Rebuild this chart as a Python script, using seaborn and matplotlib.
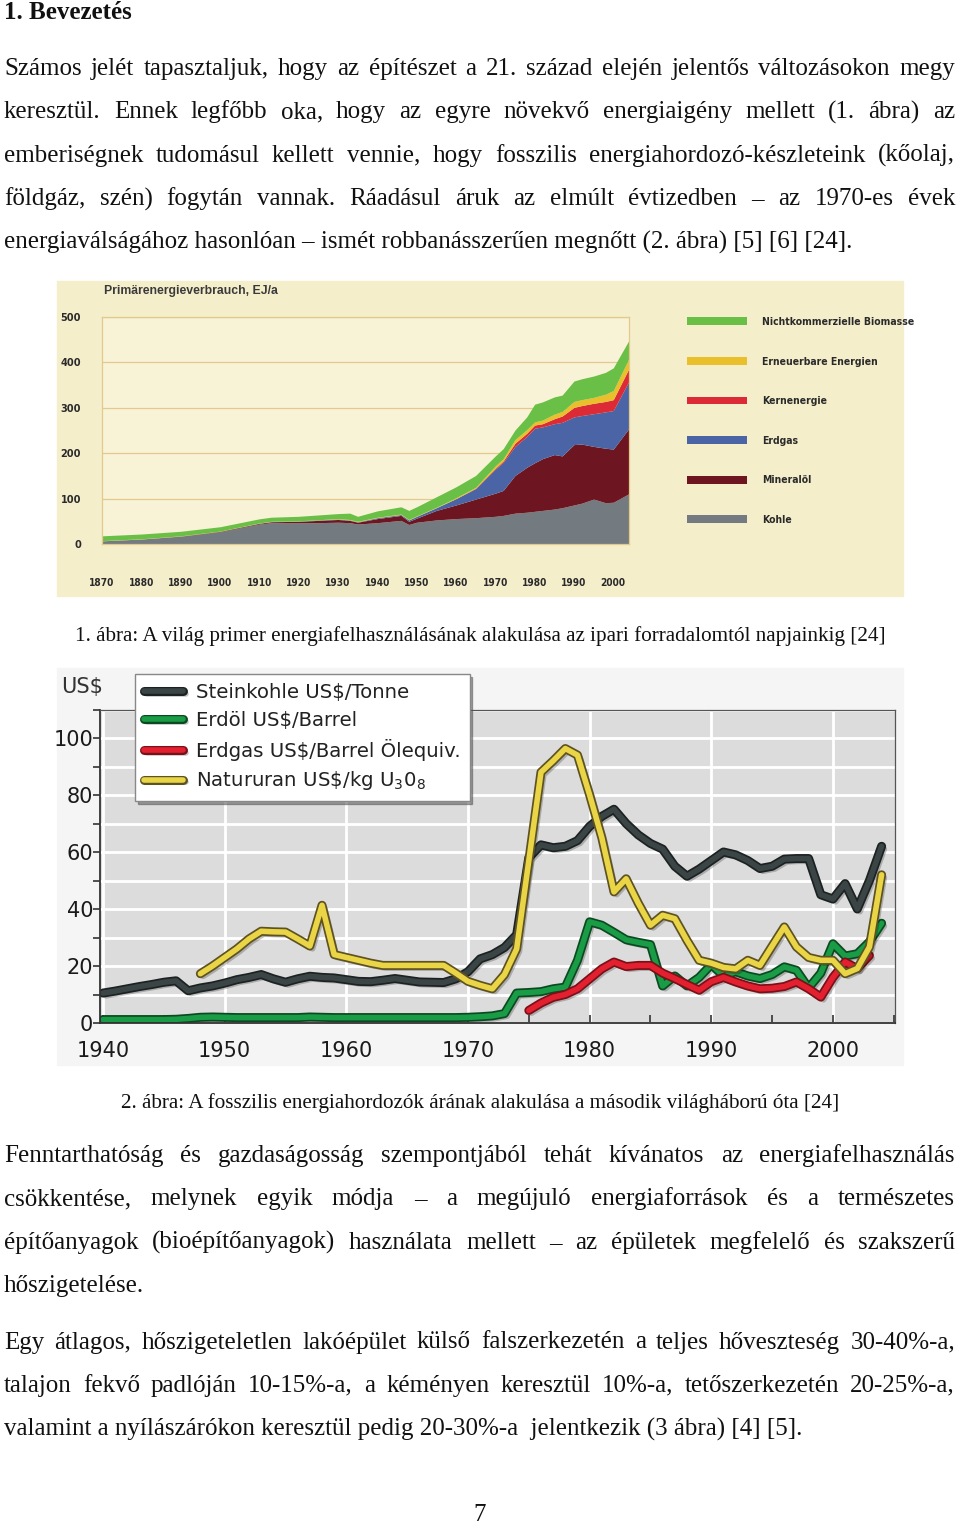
import numpy as np
import pandas as pd
import seaborn as sns
import matplotlib.pyplot as plt
from matplotlib import patheffects as pe
from matplotlib.patches import Rectangle
from matplotlib.ticker import MultipleLocator
from matplotlib.font_manager import FontProperties

# -------------------------------
# Page text
# -------------------------------
heading = "1. Bevezetés"

para1 = [
    "Számos jelét tapasztaljuk, hogy az építészet a 21. század elején jelentős változásokon megy",
    "keresztül. Ennek legfőbb oka, hogy az egyre növekvő energiaigény mellett (1. ábra) az",
    "emberiségnek tudomásul kellett vennie, hogy fosszilis energiahordozó-készleteink (kőolaj,",
    "földgáz, szén) fogytán vannak. Ráadásul áruk az elmúlt évtizedben – az 1970-es évek",
    "energiaválságához hasonlóan – ismét robbanásszerűen megnőtt (2. ábra) [5] [6] [24].",
]
caption1 = "1. ábra: A világ primer energiafelhasználásának alakulása az ipari forradalomtól napjainkig [24]"
caption2 = "2. ábra: A fosszilis energiahordozók árának alakulása a második világháború óta [24]"
para2 = [
    "Fenntarthatóság és gazdaságosság szempontjából tehát kívánatos az energiafelhasználás",
    "csökkentése, melynek egyik módja – a megújuló energiaforrások és a természetes",
    "építőanyagok (bioépítőanyagok) használata mellett – az épületek megfelelő és szakszerű",
    "hőszigetelése.",
]
para3 = [
    "Egy átlagos, hőszigeteletlen lakóépület külső falszerkezetén a teljes hőveszteség 30-40%-a,",
    "talajon fekvő padlóján 10-15%-a, a kéményen keresztül 10%-a, tetőszerkezetén 20-25%-a,",
    "valamint a nyílászárókon keresztül pedig 20-30%-a  jelentkezik (3 ábra) [4] [5].",
]
page_no = "7"

# -------------------------------
# Figure 1 data: primary energy use, EJ/a (stacked)
# -------------------------------
energy_years = [1870, 1880, 1890, 1900, 1910, 1913, 1920, 1925, 1930, 1933, 1935,
                1940, 1946, 1948, 1950, 1955, 1960, 1965, 1970, 1972, 1975, 1978,
                1980, 1982, 1985, 1987, 1990, 1992, 1995, 1998, 2000, 2004]
kohle = [7, 11, 17, 27, 44, 47, 47, 47, 48, 47, 44,
         47, 52, 43, 48, 53, 56, 58, 61, 63, 68, 70,
         72, 74, 77, 80, 86, 90, 99, 91, 92, 111]
mineraloel = [0, 0, 0.5, 1, 1.5, 2, 3, 5, 6, 5, 4,
              9, 11, 7, 9, 21, 30, 41, 51, 55, 83, 99,
              107, 114, 120, 114, 133, 130, 116, 120, 117, 144]
erdgas = [0, 0, 0, 0, 0.5, 0.5, 0.5, 1, 1, 1, 1,
          2, 2, 3, 4, 6, 14, 23, 53, 62, 64, 68,
          76, 70, 68, 74, 61, 63, 72, 80, 85, 104]
kernenergie = [0, 0, 0, 0, 0, 0, 0, 0, 0, 0, 0,
               0, 0, 0, 0, 0, 0, 1, 2, 3, 7, 7,
               7, 7, 11, 14, 21, 22, 23, 23, 24, 28]
erneuerbare = [0.5, 0.5, 0.5, 0.5, 0.5, 0.5, 0.5, 0.5, 1, 1, 1,
               1, 1, 1, 1, 1, 2, 2, 5, 5, 8, 8,
               7, 8, 10, 10, 13, 13, 13, 16, 20, 22]
biomasse = [10.5, 10.5, 10, 9.5, 9, 9, 10, 10.5, 11, 14, 11,
            14, 16, 20, 20, 23, 24, 26, 22, 22, 21, 28,
            39, 40, 38, 36, 45, 46, 47, 48, 50, 40]
energy_labels = ["Kohle", "Mineralöl", "Erdgas", "Kernenergie",
                 "Erneuerbare Energien", "Nichtkommerzielle Biomasse"]
energy_colors = ["#737a80", "#6d1520", "#4a64a5", "#dc2a36", "#e9bf2b", "#6abf46"]
energy_xticks = list(range(1870, 2001, 10))
energy_yticks = [0, 100, 200, 300, 400, 500]

# -------------------------------
# Figure 2 data: fossil fuel prices
# -------------------------------
coal_years = list(range(1940, 2005))
coal_price = [10.5, 11.2, 12.0, 12.8, 13.5, 14.3, 14.8, 11.3, 12.3, 13.0,
              14.0, 15.2, 16.0, 17.0, 15.5, 14.3, 15.5, 16.4, 16.0, 15.8,
              15.2, 14.6, 14.5, 15.0, 15.6, 15.0, 14.4, 14.3, 14.2, 15.5,
              18.0, 22.5, 24.0, 26.5, 31.0, 58.0, 62.5, 61.5, 62.0, 64.0,
              69.0, 72.5, 75.0, 70.0, 66.0, 63.0, 61.0, 55.0, 51.5, 54.0,
              57.0, 60.0, 59.0, 57.0, 54.2, 55.0, 57.5, 57.7, 57.7, 45.0,
              43.5, 48.9, 40.0, 50.0, 62.0]
oil_years = list(range(1940, 2005))
oil_price = [1.2, 1.2, 1.2, 1.2, 1.2, 1.2, 1.3, 1.6, 2.0, 2.1,
             2.0, 1.9, 1.9, 1.9, 1.9, 1.9, 1.9, 2.1, 2.0, 1.9,
             1.9, 1.9, 1.9, 1.9, 1.9, 1.9, 1.9, 1.9, 1.9, 1.9,
             2.0, 2.2, 2.5, 3.3, 10.5, 10.7, 11.0, 12.0, 12.6, 22.0,
             35.5, 34.3, 31.8, 29.2, 28.3, 27.5, 13.0, 16.5, 13.0, 16.0,
             20.5, 16.5, 18.0, 16.5, 15.6, 17.0, 19.7, 18.5, 12.3, 17.5,
             27.8, 23.5, 24.3, 28.5, 35.0]
gas_years = list(range(1975, 2004))
gas_price = [4.4, 7.0, 9.0, 10.0, 12.0,
             15.5, 19.0, 21.4, 19.8, 20.2,
             20.2, 17.5, 15.6, 13.5, 11.5,
             14.5, 16.0, 14.4, 13.0, 12.0,
             12.2, 12.8, 14.4, 12.0, 9.1,
             16.0, 21.4, 19.1, 23.7]
uran_years = list(range(1948, 2005))
uran_price = [17.3, 20.0,
              23.0, 26.0, 29.5, 32.2, 32.0, 31.9, 29.5, 27.0, 41.3, 24.0,
              23.0, 22.0, 21.0, 20.2, 20.2, 20.2, 20.2, 20.2, 20.2, 17.5,
              14.6, 13.2, 12.0, 17.0, 26.0, 57.0, 88.0, 92.0, 96.3, 94.0,
              80.0, 65.0, 46.0, 50.6, 42.0, 34.3, 37.8, 36.6, 29.0, 22.0,
              21.0, 19.5, 19.0, 22.0, 20.2, 27.0, 33.7, 26.7, 23.0, 22.0,
              22.0, 17.3, 19.1, 26.7, 52.0]
price_labels = ["Steinkohle US\\$/Tonne", "Erdöl US\\$/Barrel",
                "Erdgas US\\$/Barrel Ölequiv.", "Natururan US\\$/kg U$_3$0$_8$"]
price_colors = ["#3c4545", "#1a9b46", "#e3202f", "#e9d546"]
price_edges = ["#1c2222", "#0b4a20", "#7a1018", "#5e5222"]

# -------------------------------
# Figure setup
# -------------------------------
W, H = 960, 1525
sns.set_style("white")
plt.rcParams['font.family'] = ['Liberation Serif', 'DejaVu Serif']

fig = plt.figure(figsize=(W / 100, H / 100), dpi=100)
fig.patch.set_facecolor("white")
renderer = fig.canvas.get_renderer()


def fx(x):
    return x / W


def fy(y):
    return 1 - y / H


def text_line(s, y, justify=False, size=18, x0=4, x1=955, weight="normal"):
    if not justify:
        fig.text(fx(x0), fy(y), s, ha="left", va="baseline", fontsize=size,
                 weight=weight, color="#111111")
        return
    words = s.split(" ")
    objs = [fig.text(0, fy(y), w, ha="left", va="baseline", fontsize=size,
                     weight=weight, color="#111111") for w in words]
    widths = [o.get_window_extent(renderer).width for o in objs]
    gap = (x1 - x0 - sum(widths)) / (len(words) - 1)
    x = x0
    for o, w in zip(objs, widths):
        o.set_x(fx(x))
        x += w + gap


def paragraph(lines, y0, step=43.4):
    for i, s in enumerate(lines):
        text_line(s, y0 + i * step, justify=(i < len(lines) - 1))


text_line(heading, 19, weight="bold")
paragraph(para1, 75)
fig.text(0.5, fy(641), caption1, ha="center", va="baseline", fontsize=15.2, color="#111111")
fig.text(0.5, fy(1108), caption2, ha="center", va="baseline", fontsize=15.2, color="#111111")
paragraph(para2, 1162)
paragraph(para3, 1348.5)
fig.text(0.5, fy(1521), page_no, ha="center", va="baseline", fontsize=18, color="#111111")

# -------------------------------
# 1. Primary energy stacked area
# -------------------------------
fig.add_artist(Rectangle((fx(57), fy(596)), (903 - 57) / W, (596 - 281) / H,
                         transform=fig.transFigure, color="#f4eecb", zorder=-1))
tan = "#e2c98c"


def cond(size):
    return FontProperties(family="DejaVu Sans", weight="bold", stretch="condensed", size=size)


ax1 = fig.add_axes([fx(102), fy(544), (629 - 102) / W, (544 - 317) / H])
ax1.set_facecolor("#f8f3d7")
ax1.stackplot(energy_years, kohle, mineraloel, erdgas, kernenergie, erneuerbare, biomasse,
              colors=energy_colors, labels=energy_labels, lw=0)
ax1.set_xlim(1870, 2004)
ax1.set_ylim(0, 500)
ax1.set_xticks(energy_xticks)
ax1.set_yticks(energy_yticks)
ax1.yaxis.grid(True, color=tan, lw=0.9)
ax1.xaxis.grid(False)
ax1.set_axisbelow(True)
for sp in ax1.spines.values():
    sp.set_color(tan)
    sp.set_linewidth(0.9)
ax1.tick_params(length=0)
ax1.tick_params(axis="y", pad=15)
ax1.tick_params(axis="x", pad=24.5)
for lbl in ax1.get_xticklabels():
    lbl.set_fontproperties(cond(7.3))
    lbl.set_color("#2a2a2a")
for lbl in ax1.get_yticklabels():
    lbl.set_fontproperties(cond(7.8))
    lbl.set_color("#2a2a2a")
fig.text(fx(104), fy(294), "Primärenergieverbrauch, EJ/a", ha="left", va="baseline",
         family=['Liberation Sans', 'DejaVu Sans'], weight="bold", fontsize=8.8,
         color="#3a3a3a")

handles, labels = ax1.get_legend_handles_labels()
ax1.legend(handles[::-1], labels[::-1], loc="upper left",
           bbox_to_anchor=(fx(687), fy(317)), bbox_transform=fig.transFigure,
           frameon=False, borderpad=0, borderaxespad=0,
           handlelength=5.75, handleheight=0.77, handletextpad=1.45, labelspacing=2.84,
           prop=cond(7.5), labelcolor="#2a2a2a")

# -------------------------------
# 2. Fossil fuel prices
# -------------------------------
fig.add_artist(Rectangle((fx(57), fy(1065)), (903 - 57) / W, (1065 - 668) / H,
                         transform=fig.transFigure, color="#f5f5f5", zorder=-1))
ax2 = fig.add_axes([fx(100), fy(1023), (895 - 100) / W, (1023 - 709.5) / H])
ax2.set_facecolor("#dcdcdc")

series = [(coal_years, coal_price), (oil_years, oil_price),
          (gas_years, gas_price), (uran_years, uran_price)]
for (xs, ys), lab, col, edge in zip(series, price_labels, price_colors, price_edges):
    sns.lineplot(x=xs, y=ys, ax=ax2, color=col, lw=4, label=lab,
                 path_effects=[pe.SimpleLineShadow(offset=(2, -2), alpha=0.22),
                               pe.Stroke(linewidth=6.5, foreground=edge), pe.Normal()])

ax2.set_xlim(1939.75, 2005.1)
ax2.set_ylim(0, 110)
ax2.xaxis.set_major_locator(MultipleLocator(10))
ax2.xaxis.set_minor_locator(MultipleLocator(5))
ax2.yaxis.set_major_locator(MultipleLocator(20))
ax2.yaxis.set_minor_locator(MultipleLocator(10))
ax2.set_yticks([0, 20, 40, 60, 80, 100])
ax2.grid(which="both", axis="y", color="white", lw=2)
ax2.grid(which="major", axis="x", color="white", lw=2)
ax2.set_axisbelow(True)
ax2.set_xlabel("")
ax2.set_ylabel("")
ax2.tick_params(axis="x", which="both", direction="in", length=6, width=1.2,
                color="#333333", labelsize=15, pad=13, labelcolor="#1a1a1a")
ax2.tick_params(axis="y", which="both", direction="out", length=5, width=1.2,
                color="#333333", labelsize=15, pad=0, labelcolor="#1a1a1a", left=True)
ax2.tick_params(axis="x", which="both", bottom=True)
for lbl in ax2.get_xticklabels() + ax2.get_yticklabels():
    lbl.set_family("DejaVu Sans")
for name, sp in ax2.spines.items():
    sp.set_visible(True)
    sp.set_color("#333333" if name in ("left", "bottom") else "#555555")
    sp.set_linewidth(1.3 if name in ("left", "bottom") else 0.9)
fig.text(fx(82), fy(693), "US$", ha="center", va="baseline", family="DejaVu Sans",
         fontsize=15, color="#333333")

ax2.legend(loc="upper left", bbox_to_anchor=(fx(135), fy(674)),
           bbox_transform=fig.transFigure, borderaxespad=0, borderpad=0.45,
           fancybox=False, shadow=True, framealpha=1, facecolor="white",
           edgecolor="#888888", handlelength=2.0, handletextpad=0.65,
           labelspacing=0.45, prop={"family": "DejaVu Sans", "size": 14.2},
           labelcolor="#222222")

fig.savefig("out.png", dpi=100, facecolor="white")
